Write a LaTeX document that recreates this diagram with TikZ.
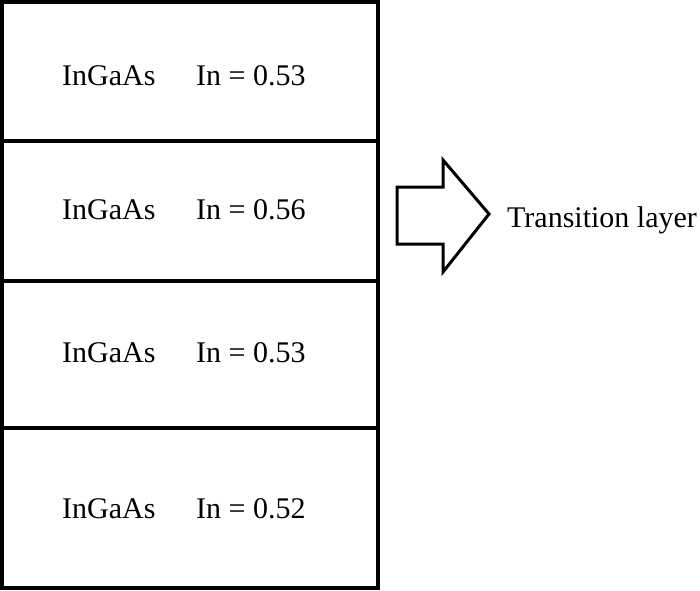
\documentclass[tikz,border=0pt]{standalone}
\usepackage{fontspec}
\setmainfont{Liberation Serif}
\begin{document}
\begin{tikzpicture}[x=1pt,y=-1pt]
\tikzset{layertext/.style={anchor=base west,inner sep=0pt,font=\fontsize{30}{30}\selectfont}}
\useasboundingbox (0,0) rectangle (700,590);
\coordinate (T) at (2,2);
\coordinate (B) at (378,588);
\coordinate (S1) at (2,141);
\coordinate (S2) at (2,281);
\coordinate (S3) at (2,428);
\draw[line width=3.2pt] (T) rectangle (B);
\foreach \s in {S1,S2,S3}
	\draw[line width=3.2pt] (\s) -- ++(376,0);
\foreach \y/\v [count=\i] in {85/0.53,219/0.56,362/0.53,518/0.52}{
	\node[layertext] (m\i) at (62,\y) {InGaAs};
	\node[layertext] (c\i) at (196,\y) {In = \v};
}
\draw[line width=3pt,line join=miter] (397,187) -- (443,187) -- (443,160) -- (489,214)
	-- (443,272) -- (443,244) -- (397,244) -- cycle;
\coordinate (tip) at (489,214);
\node[layertext] (tl) at (507,227) {Transition layer};
\end{tikzpicture}
\end{document}
